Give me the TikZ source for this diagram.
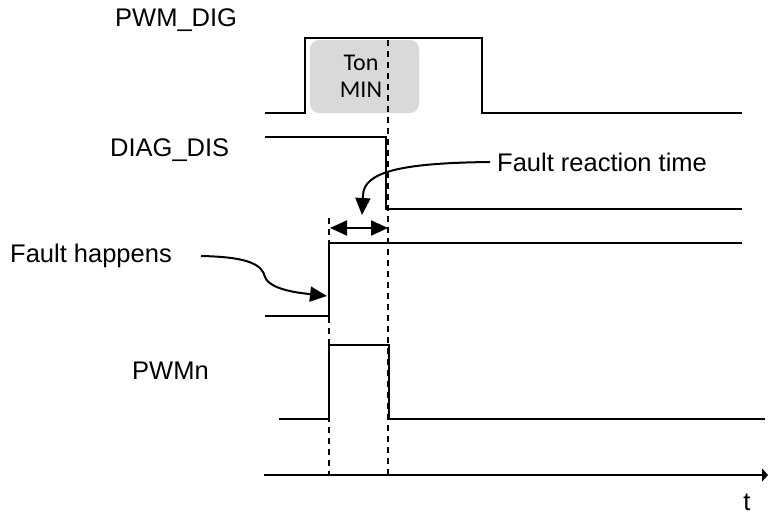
\documentclass[tikz,border=0pt]{standalone}
\usepackage{fontspec}
\setmainfont{Liberation Sans}
\newfontfamily\tonfont{Carlito}
\usetikzlibrary{arrows.meta}

\tikzstyle{signal} = [line width=2pt,line join=miter]
\tikzstyle{marker} = [line width=1.2pt,dash pattern=on 6pt off 5pt]
\tikzstyle{sigtext} = [font=\fontsize{25.5}{30}\selectfont,inner sep=0pt,anchor=base west]
\tikzstyle{tonbox} = [rectangle,rounded corners=9pt,fill=black!15,minimum width=109pt,minimum height=73pt]
\tikzstyle{tontext} = [align=center,inner sep=0pt,font=\tonfont\fontsize{24}{27}\selectfont]
\tikzstyle{pointer} = [line width=2pt,-{Triangle[length=17pt,width=15pt]}]

\begin{document}
\begin{tikzpicture}[x=1pt,y=-1pt]
	\useasboundingbox (0,0) rectangle (768,514);
	% Ton MIN window
	\node[tonbox] (ton) at (364.5,76.5) {};
	\node[tontext] (tonlabel) at (361,76) {Ton\\MIN};
	% signal names
	\node[sigtext] (pwmdig) at (115,27) {PWM\_DIG};
	\node[sigtext] (diagdis) at (110,156) {DIAG\_DIS};
	\node[sigtext] (pwmn) at (132,379) {PWMn};
	\node[sigtext] (happens) at (10,262) {Fault happens};
	\node[sigtext] (reaction) at (497,171) {Fault reaction time};
	\node[sigtext,anchor=base] (t) at (747,510) {t};
	% waveforms
	\draw[signal] (265,113) -- (305,113) -- (305,38) -- (482,38) -- (482,113) -- (742,113);
	\draw[signal] (265,137) -- (386,137) -- (386,209) -- (742,209);
	\draw[signal] (265,316) -- (329,316) -- (329,243) -- (742,243);
	\draw[signal] (279,419) -- (329,419) -- (329,345) -- (389,345) -- (389,419) -- (765,419);
	% time axis
	\draw[signal,-{Triangle[length=6pt,width=13pt]}] (264,475) -- (768,475);
	% event markers
	\coordinate (fault) at (329,218);
	\coordinate (react) at (388,40);
	\draw[marker] (fault) -- (329,474);
	\draw[marker] (react) -- (388,475);
	% reaction interval
	\coordinate (ra) at (330,228);
	\coordinate (rb) at (388,228);
	\draw[line width=2pt,{Triangle[length=17pt,width=15pt]}-{Triangle[length=17pt,width=15pt]}] (ra) -- (rb);
	% pointers
	\coordinate (hit) at (327,296);
	\coordinate (tip) at (362,215);
	\coordinate (hstart) at (201,256);
	\coordinate (rstart) at (490,162);
	\draw[pointer] (hstart) .. controls (250,257) and (262,265) .. (265,277)
		.. controls (270,290) and (300,293) .. (hit);
	\draw[pointer] (rstart) .. controls (400,163) and (363,172) .. (363,196) -- (tip);
\end{tikzpicture}
\end{document}
